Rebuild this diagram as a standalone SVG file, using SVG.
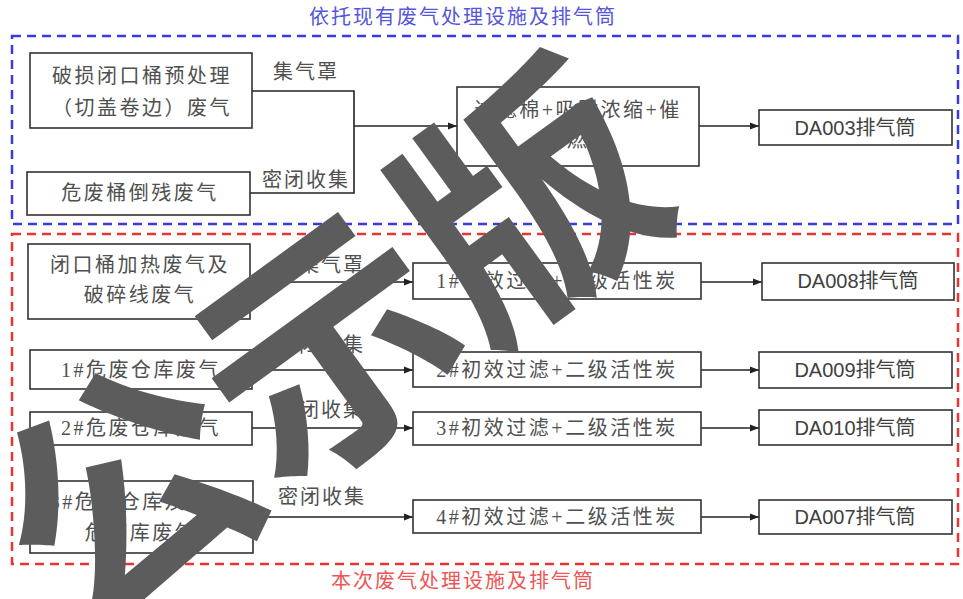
<svg xmlns="http://www.w3.org/2000/svg" width="963" height="599" viewBox="0 0 963 599">
<defs>
<marker id="arr" markerWidth="10" markerHeight="8" refX="9" refY="4" orient="auto" markerUnits="userSpaceOnUse">
<path d="M0,0.5 L9,4 L0,7.5 Z" fill="#222"/>
</marker>
<style>
.box{fill:#fff;stroke:#333;stroke-width:1.6}
.t{font-family:"Liberation Serif","Noto Sans CJK SC",serif;font-size:20px;fill:#505050;text-anchor:middle;letter-spacing:2.5px}
.s{font-family:"Liberation Sans","Noto Sans CJK SC",sans-serif;font-size:20px;fill:#404040;text-anchor:middle}
.lb{font-family:"Liberation Serif","Noto Sans CJK SC",serif;font-size:20px;fill:#505050;text-anchor:middle;letter-spacing:2px}
.ln{fill:none;stroke:#222;stroke-width:1.6}
.wm{font-family:"Noto Sans CJK SC",sans-serif;font-weight:700;font-size:250px;fill:#5c5c5c;text-anchor:middle}
</style>
</defs>
<rect width="963" height="599" fill="#fff"/>
<g id="frames">
<rect x="12" y="36" width="946" height="188" fill="none" stroke="#3a3ae0" stroke-width="2.5" stroke-dasharray="9,6"/>
<text x="463" y="24" font-family="Liberation Serif,Noto Sans CJK SC,serif" font-size="20" fill="#5555dd" text-anchor="middle" letter-spacing="2">依托现有废气处理设施及排气筒</text>
<rect x="12" y="234" width="946" height="330" fill="none" stroke="#e83434" stroke-width="2.5" stroke-dasharray="9,6"/>
<text x="463" y="588" font-family="Liberation Serif,Noto Sans CJK SC,serif" font-size="20" fill="#ee5555" text-anchor="middle" letter-spacing="2">本次废气处理设施及排气筒</text>
</g>
<g id="connectors">
<polyline class="ln" points="252,91 354,91 354,193 250,193"/>
<line class="ln" x1="354" y1="126" x2="457" y2="126" marker-end="url(#arr)"/>
<line class="ln" x1="699" y1="126" x2="759" y2="126" marker-end="url(#arr)"/>
<line class="ln" x1="250" y1="282" x2="413" y2="282" marker-end="url(#arr)"/>
<line class="ln" x1="701" y1="282" x2="762" y2="282" marker-end="url(#arr)"/>
<line class="ln" x1="252" y1="370" x2="413" y2="370" marker-end="url(#arr)"/>
<line class="ln" x1="701" y1="370" x2="759" y2="370" marker-end="url(#arr)"/>
<line class="ln" x1="252" y1="428" x2="413" y2="428" marker-end="url(#arr)"/>
<line class="ln" x1="701" y1="428" x2="759" y2="428" marker-end="url(#arr)"/>
<line class="ln" x1="253" y1="517" x2="413" y2="517" marker-end="url(#arr)"/>
<line class="ln" x1="701" y1="517" x2="759" y2="517" marker-end="url(#arr)"/>
<text class="lb" x="306" y="79">集气罩</text>
<text class="lb" x="306" y="187">密闭收集</text>
<text class="lb" x="332" y="272">集气罩</text>
<text class="lb" x="321" y="352">密闭收集</text>
<text class="lb" x="321" y="417">密闭收集</text>
<text class="lb" x="322" y="504">密闭收集</text>
</g>
<g id="nA"><rect class="box" x="30" y="53" width="222" height="75"/><text class="t" x="142" y="83">破损闭口桶预处理</text><text class="t" x="142" y="115">（切盖卷边）废气</text></g>
<g id="nB"><rect class="box" x="27" y="172" width="223" height="43"/><text class="t" x="140" y="200">危废桶倒残废气</text></g>
<g id="nC"><rect class="box" x="457" y="87" width="242" height="79"/><text class="t" x="578" y="117">过滤棉+吸附浓缩+催</text><text class="t" x="578" y="147">化燃烧</text></g>
<g id="nD"><rect class="box" x="759" y="110" width="193" height="35"/><text class="s" x="855" y="135">DA003排气筒</text></g>
<g id="nE"><rect class="box" x="28" y="244" width="222" height="75"/><text class="t" x="140" y="272">闭口桶加热废气及</text><text class="t" x="140" y="302">破碎线废气</text></g>
<g id="nF1"><rect class="box" x="413" y="263" width="288" height="36"/><text class="t" x="557" y="288">1#初效过滤+二级活性炭</text></g>
<g id="nG1"><rect class="box" x="762" y="263" width="192" height="37"/><text class="s" x="858" y="288">DA008排气筒</text></g>
<g id="nE2"><rect class="box" x="30" y="350" width="222" height="39"/><text class="t" x="141" y="377">1#危废仓库废气</text></g>
<g id="nF2"><rect class="box" x="413" y="352" width="288" height="35"/><text class="t" x="557" y="377">2#初效过滤+二级活性炭</text></g>
<g id="nG2"><rect class="box" x="759" y="352" width="193" height="36"/><text class="s" x="855" y="377">DA009排气筒</text></g>
<g id="nE3"><rect class="box" x="30" y="412" width="222" height="33"/><text class="t" x="141" y="435">2#危废仓库废气</text></g>
<g id="nF3"><rect class="box" x="413" y="412" width="288" height="33"/><text class="t" x="557" y="435">3#初效过滤+二级活性炭</text></g>
<g id="nG3"><rect class="box" x="759" y="410" width="193" height="35"/><text class="s" x="855" y="435">DA010排气筒</text></g>
<g id="nE4"><rect class="box" x="30" y="481" width="223" height="72"/><text class="t" x="141" y="509">3#危废仓库及次生</text><text class="t" x="141" y="540">危废库废气</text></g>
<g id="nF4"><rect class="box" x="413" y="500" width="288" height="33"/><text class="t" x="557" y="524">4#初效过滤+二级活性炭</text></g>
<g id="nG4"><rect class="box" x="759" y="500" width="193" height="34"/><text class="s" x="855" y="524">DA007排气筒</text></g>
<g id="watermark">
<text class="wm" x="0" y="95" transform="translate(326,346) rotate(-36)">公示版</text>
</g>
</svg>
